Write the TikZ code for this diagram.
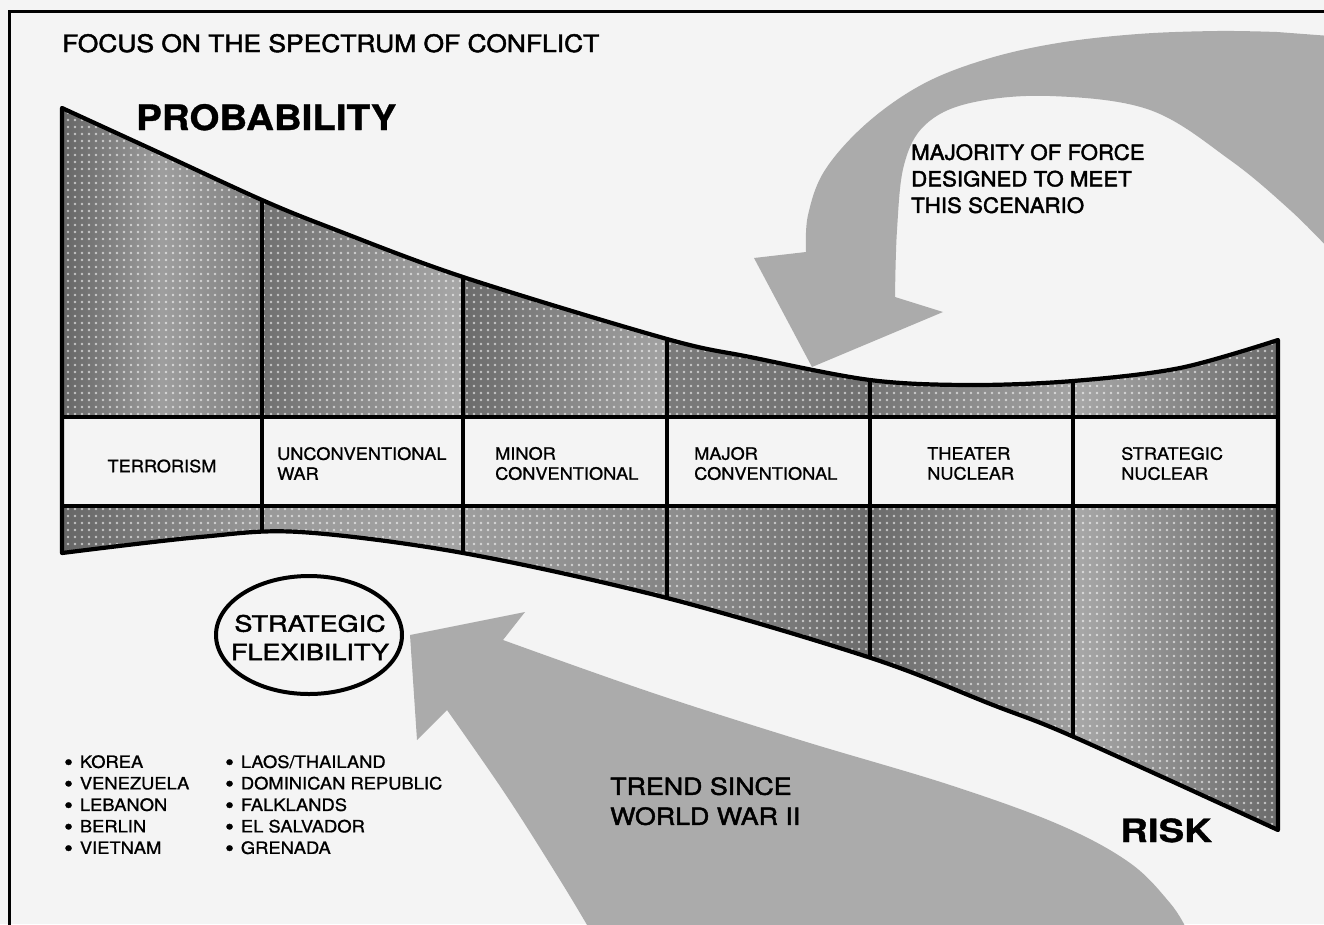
\documentclass[tikz,border=0pt]{standalone}
\usepackage{fontspec}
\setmainfont{TeX Gyre Heros}
\newfontfamily\titlefont{TeX Gyre Heros}[FakeStretch=1.1, FakeBold=2]
\newfontfamily\probfont{TeX Gyre Heros}[FakeStretch=1.1, FakeBold=1]
\newfontfamily\riskfont{TeX Gyre Heros}[FakeStretch=1.2, FakeBold=1]
\newfontfamily\lblfont{TeX Gyre Heros}[FakeStretch=1.07, FakeBold=1]
\newfontfamily\majfont{TeX Gyre Heros}[FakeStretch=1.06, FakeBold=2]
\newfontfamily\trendfont{TeX Gyre Heros}[FakeStretch=1.14, FakeBold=2]
\newfontfamily\flexfont{TeX Gyre Heros}[FakeStretch=1.2, FakeBold=2]
\newfontfamily\bulletfont{TeX Gyre Heros}[FakeStretch=1.08, FakeBold=1]
\usetikzlibrary{patterns.meta,shapes.geometric}
\tikzdeclarepattern{
  name=halftone,
  type=uncolored,
  bounding box={(0pt,0pt) and (6.5pt,6.5pt)},
  tile size={(6.5pt,6.5pt)},
  code={\fill (3.25pt,3.25pt) circle (1.5pt);}
}
\definecolor{arrowgray}{gray}{0.67}
\definecolor{paper}{gray}{0.955}
\newcommand{\bul}{\raisebox{-2.2pt}{\fontsize{23}{21.5}\selectfont\textbullet}\hspace{7pt}}
\tikzset{
  grid/.style={line width=4.2pt, line join=round},
  gridthin/.style={line width=3.2pt},
  lbl/.style={font=\lblfont\fontsize{17}{20}\selectfont, anchor=west, align=left, inner sep=0pt},
  bullet/.style={font=\bulletfont\fontsize{17}{21.5}\selectfont, anchor=north west, align=left, inner sep=0pt},
  bigarrow/.style={fill=arrowgray, draw=none},
  dots/.style={pattern=halftone, pattern color=white, opacity=0.6},
}
\begin{document}
\begin{tikzpicture}[x=1pt,y=-1pt]
\useasboundingbox (0,0) rectangle (1324,924);
\fill[paper] (0,0) rectangle (1324,924);
% frame
\draw[line width=3pt] (1330,11) -- (9,11) -- (9,930);

% title
\node[anchor=base west, inner sep=0pt, font=\titlefont\fontsize{24}{28}\selectfont] (title) at (62,52) {FOCUS ON THE SPECTRUM OF CONFLICT};
\node[anchor=base west, inner sep=0pt, font=\probfont\bfseries\fontsize{35}{40}\selectfont] (prob) at (136,130) {PROBABILITY};

% top band
\begin{scope}
\clip plot[smooth, tension=0.55] coordinates {(62,108) (160,153) (262,200) (331,228) (463,277) (667,339) (750,357) (870,380) (970,385) (1073,381) (1180,368) (1278,340)} -- (1278,417) -- (62,417) -- cycle;
\shade[left color=black!60, right color=black!50, middle color=black!38] (62,90) rectangle (262,417);
\shade[left color=black!56, right color=black!34] (262,90) rectangle (463,417);
\shade[left color=black!58, right color=black!36] (463,90) rectangle (667,417);
\shade[left color=black!52, right color=black!56] (667,90) rectangle (870,417);
\shade[left color=black!54, right color=black!36] (870,90) rectangle (1073,417);
\shade[left color=black!34, right color=black!58] (1073,90) rectangle (1278,417);
\fill[dots] (62,90) rectangle (1278,417);
\end{scope}
% bottom band
\begin{scope}
\clip (62,506) -- (1278,506) -- plot[smooth, tension=0.55] coordinates {(1278,830) (1074,737) (993,705) (871,658) (667,598) (463,553) (300,532) (200,537) (62,553)} -- cycle;
\shade[left color=black!60, right color=black!40] (62,506) rectangle (262,840);
\shade[left color=black!40, right color=black!36] (262,506) rectangle (463,840);
\shade[left color=black!38, right color=black!48] (463,506) rectangle (667,840);
\shade[left color=black!44, right color=black!58] (667,506) rectangle (871,840);
\shade[left color=black!58, right color=black!38] (871,506) rectangle (1074,840);
\shade[left color=black!34, right color=black!58] (1074,506) rectangle (1278,840);
\fill[dots] (62,506) rectangle (1278,840);
\end{scope}

% top arrow (majority of force)
\fill[bigarrow] (1330,36) -- plot[smooth, tension=0.6] coordinates {(1277,32) (1217,31) (1138,34) (1058,43) (987,59) (923,84) (867,123) (825,170) (808,215) (806,252)}
  -- (754,258) -- (812,367) -- (943,312) -- (895,297)
  -- plot[smooth, tension=0.6] coordinates {(895,297) (897,230) (904,165) (925,125) (970,103) (1050,96) (1150,110) (1230,160) (1290,210) (1330,250)} -- cycle;
\node[anchor=north west, align=left, inner sep=0pt, font=\majfont\fontsize{21}{26.5}\selectfont] (maj) at (911,144) {MAJORITY OF FORCE\\DESIGNED TO MEET\\THIS SCENARIO};

% outline
\draw[grid] plot[smooth, tension=0.55] coordinates {(62,108) (160,153) (262,200) (331,228) (463,277) (667,339) (750,357) (870,380) (970,385) (1073,381) (1180,368) (1278,340)} -- (1278,830) -- plot[smooth, tension=0.55] coordinates {(1278,830) (1074,737) (993,705) (871,658) (667,598) (463,553) (300,532) (200,537) (62,553)} -- cycle;
\draw[gridthin] (62,417) -- (1278,417);
\draw[gridthin] (62,506) -- (1278,506);
\foreach \x/\yt/\yb in {262/200/533, 463/277/553, 667/339/598, 870/380/658, 1073/381/737}{
  \draw[gridthin] (\x,\yt) -- (\x,\yb);
}

% labels
\node[lbl, anchor=center] (l1) at (162,466) {TERRORISM};
\node[lbl] (l2) at (277,463.5) {UNCONVENTIONAL\\WAR};
\node[lbl] (l3) at (495,463.5) {MINOR\\CONVENTIONAL};
\node[lbl] (l4) at (694,463.5) {MAJOR\\CONVENTIONAL};
\node[lbl] (l5) at (927,463.5) {THEATER\\NUCLEAR};
\node[lbl] (l6) at (1121,463.5) {STRATEGIC\\NUCLEAR};

% bottom arrow (trend)
\fill[bigarrow] (1195,930) -- plot[smooth, tension=0.6] coordinates {(1186,928) (1170,903) (1130,863) (1060,825) (950,785) (800,740) (650,692) (503,640)}
  -- (525,612) -- (410,635) -- (417,740) -- (447,710)
  -- plot[smooth, tension=0.6] coordinates {(447,710) (506,795) (560,880) (590,930)} -- cycle;
\node[anchor=north west, align=left, inner sep=0pt, font=\trendfont\fontsize{23.5}{30}\selectfont] (trend) at (610,777) {TREND SINCE\\WORLD WAR II};

% strategic flexibility
\node[draw, line width=4pt, ellipse, minimum width=186pt, minimum height=118pt, inner sep=0pt] (flex) at (309,635) {};
\node[align=center, inner sep=0pt, font=\flexfont\fontsize{22.5}{28.5}\selectfont] (flext) at (310,637.5) {STRATEGIC\\FLEXIBILITY};

% risk
\node[anchor=base west, inner sep=0pt, font=\riskfont\bfseries\fontsize{32}{36}\selectfont] (risk) at (1120,842) {RISK};

% bullets
\node[bullet] (b1) at (64,755) {\bul KOREA\\\bul VENEZUELA\\\bul LEBANON\\\bul BERLIN\\\bul VIETNAM};
\node[bullet] (b2) at (225,755) {\bul LAOS/THAILAND\\\bul DOMINICAN REPUBLIC\\\bul FALKLANDS\\\bul EL SALVADOR\\\bul GRENADA};
\end{tikzpicture}
\end{document}
